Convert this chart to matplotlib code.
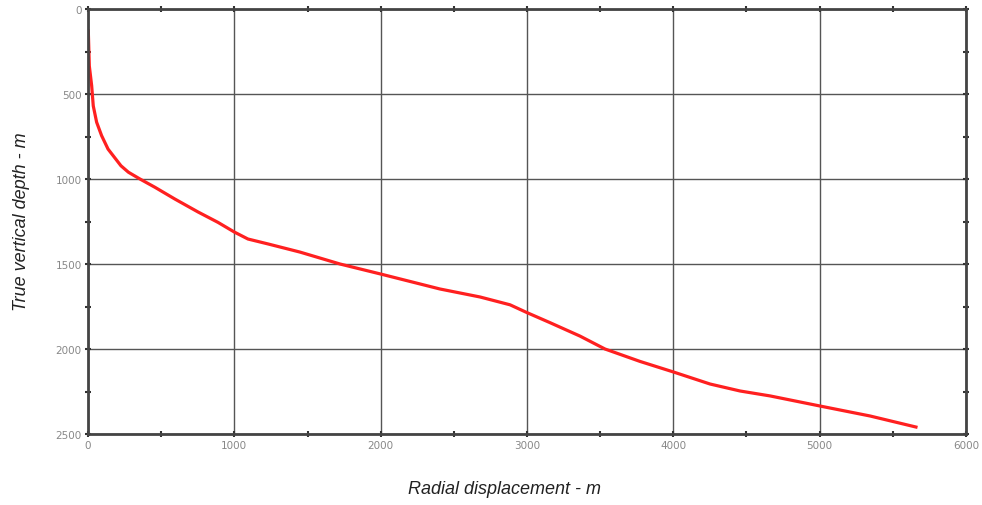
import matplotlib.pyplot as plt
from matplotlib.ticker import MultipleLocator

# Datos (desplazamiento radial vs profundidad vertical)
radial_m = [2, 9, 25, 36, 59, 93, 137, 225, 276, 355, 458, 594, 752, 888,
            1000, 1093, 1230, 1367, 1449, 1722, 2000, 2405, 2679, 2884,
            3000, 3157, 3362, 3533, 3772, 4000, 4251, 4456, 4661, 5000,
            5344, 5658]
tvd_m = [129, 335, 451, 570, 666, 745, 824, 922, 960, 1000, 1049, 1118,
         1194, 1255, 1312, 1353, 1382, 1412, 1430, 1500, 1559, 1647, 1694,
         1740, 1786, 1845, 1924, 2000, 2073, 2135, 2206, 2247, 2276, 2335,
         2394, 2459]

x_ticks = [0, 1000, 2000, 3000, 4000, 5000, 6000]
y_ticks = [0, 500, 1000, 1500, 2000, 2500]

fig = plt.figure(figsize=(9.82, 5.06), dpi=100)
ax = fig.add_axes([88 / 982, 1 - 435 / 506, (966 - 88) / 982, (435 - 10) / 506])

ax.plot(radial_m, tvd_m, color='#ff2020', linewidth=2.3,
        solid_joinstyle='round')

ax.set_xlim(0, 6000)
ax.set_ylim(2500, 0)
ax.set_xticks(x_ticks)
ax.set_yticks(y_ticks)
ax.xaxis.set_minor_locator(MultipleLocator(500))
ax.yaxis.set_minor_locator(MultipleLocator(250))

ax.grid(True, which='major', color='#555555', linewidth=1.0)
for s in ax.spines.values():
    s.set_color('#444444')
    s.set_linewidth(2)

ax.tick_params(which='both', direction='inout', top=True, right=True,
               color='#333333', labelsize=7.5, labelcolor='#888888', pad=2)
ax.tick_params(which='major', length=5, width=1.5)
ax.tick_params(which='minor', length=4, width=1.5)

fig.text(22 / 982, 1 - 222 / 506, 'True vertical depth - m', rotation=90,
         ha='center', va='center', fontsize=13, style='italic',
         family='Liberation Sans', color='#222222')
fig.text(505 / 982, 1 - 490 / 506, 'Radial displacement - m',
         ha='center', va='center', fontsize=13, style='italic',
         family='Liberation Sans', color='#222222')

fig.savefig('out.png', dpi=100)
